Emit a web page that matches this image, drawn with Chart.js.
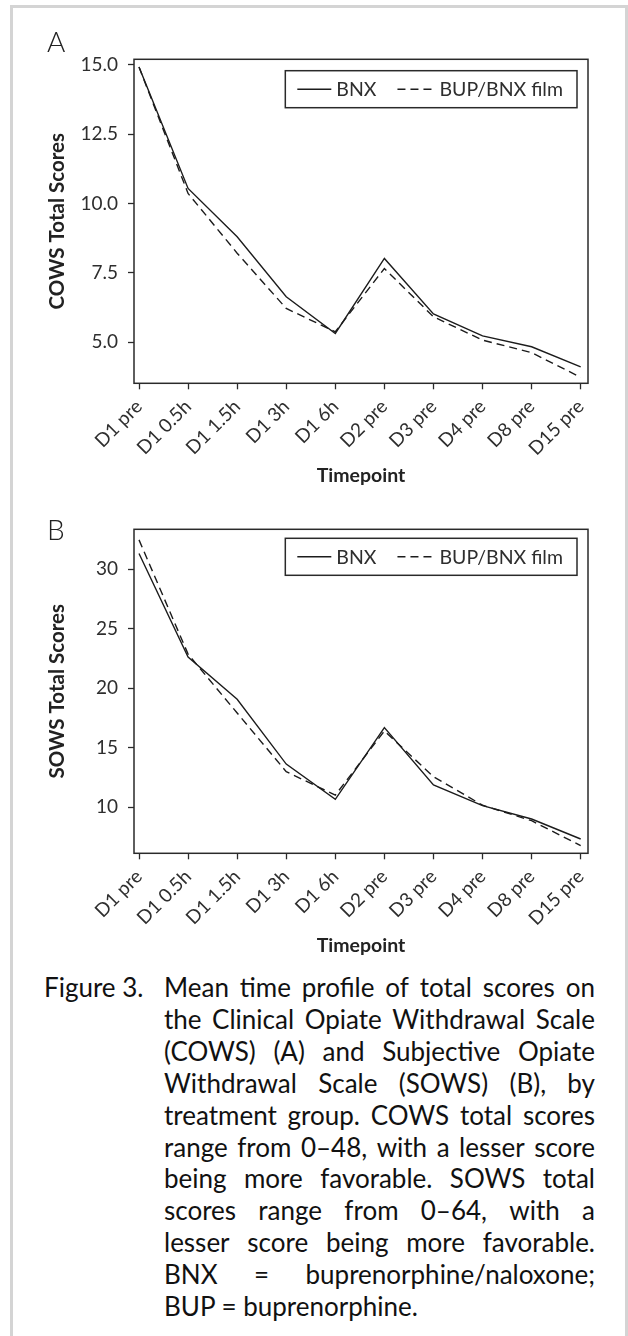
<!DOCTYPE html>
<html>
<head>
<meta charset="utf-8">
<script src="https://cdn.jsdelivr.net/npm/chart.js@4.4.0/dist/chart.umd.min.js"></script>
<style>
  html, body { margin: 0; padding: 0; background: #fff; }
  body { width: 628px; height: 1336px; position: relative; overflow: hidden; font-family: Lato, "Open Sans", sans-serif; }
  #frame { position: absolute; left: 10px; top: 5px; width: 618px; height: 1400px; border: 3px solid #d4d4d4; box-sizing: border-box; }
  canvas { position: absolute; left: 0; }
  #chartA { top: 50px; }
  #chartB { top: 520px; }
  .panel { position: absolute; left: 47px; font-size: 28px; font-weight: 300; line-height: 1; color: #222; }
  #caption { position: absolute; left: 44px; top: 972px; width: 551px; font-size: 21px; line-height: 31.9px; color: #111; }
  #caption .fig { position: absolute; left: 0; top: 0; white-space: nowrap; }
  #caption .body { position: absolute; left: 120px; top: 0; width: 431px; }
  #caption .body div { display: flex; justify-content: space-between; white-space: nowrap; }
  #caption .body div.last { justify-content: flex-start; }
</style>
</head>
<body>
<div id="frame"></div>
<canvas id="chartA" width="628" height="450"></canvas>
<canvas id="chartB" width="628" height="450"></canvas>
<div class="panel" style="top:27px">A</div>
<div class="panel" style="top:515px">B</div>
<div id="caption">
  <div class="fig">Figure 3.</div>
  <div class="body" id="capBody"></div>
</div>
<script>
const timepoints = ['D1 pre', 'D1 0.5h', 'D1 1.5h', 'D1 3h', 'D1 6h', 'D2 pre', 'D3 pre', 'D4 pre', 'D8 pre', 'D15 pre'];
const seriesNames = ['BNX', 'BUP/BNX film'];

// panel A - COWS
const cowsBnx  = [14.91, 10.54, 8.80, 6.64, 5.32, 8.02, 6.02, 5.23, 4.84, 4.12];
const cowsFilm = [14.91, 10.36, 8.21, 6.22, 5.38, 7.66, 5.92, 5.08, 4.63, 3.74];
const cowsTicks = [5.0, 7.5, 10.0, 12.5, 15.0];

// panel B - SOWS
const sowsBnx  = [31.30, 22.60, 19.05, 13.61, 10.65, 16.67, 11.85, 10.11, 8.99, 7.31];
const sowsFilm = [32.45, 22.85, 17.90, 12.97, 11.00, 16.39, 12.55, 10.15, 8.85, 6.75];
const sowsTicks = [10, 15, 20, 25, 30];

const captionLines = [
  'Mean time profile of total scores on',
  'the Clinical Opiate Withdrawal Scale',
  '(COWS) (A) and Subjective Opiate',
  'Withdrawal Scale (SOWS) (B), by',
  'treatment group. COWS total scores',
  'range from 0–48, with a lesser score',
  'being more favorable. SOWS total',
  'scores range from 0–64, with a',
  'lesser score being more favorable.',
  'BNX = buprenorphine/naloxone;',
  'BUP = buprenorphine.'
];

const ink = '#1c1c1c';
const textCol = '#2e2e2e';
const fontFam = 'Lato';

// caption: one justified row per line, font sized so the fullest line just fits
const capBody = document.getElementById('capBody');
captionLines.forEach((line, i) => {
  const row = document.createElement('div');
  if (i === captionLines.length - 1) {
    row.className = 'last';
    row.textContent = line;
  } else {
    line.split(' ').forEach(w => {
      const s = document.createElement('span');
      s.textContent = w;
      row.appendChild(s);
    });
  }
  capBody.appendChild(row);
});
(function fitCaption() {
  const probe = document.createElement('span');
  probe.style.cssText = 'position:absolute;visibility:hidden;white-space:nowrap;font-size:21px;font-family:Lato';
  document.body.appendChild(probe);
  let widest = 0;
  captionLines.slice(0, -1).forEach(l => {
    probe.textContent = l;
    widest = Math.max(widest, probe.getBoundingClientRect().width);
  });
  probe.remove();
  const size = Math.min(26, 21 * 424 / widest);
  document.getElementById('caption').style.fontSize = size.toFixed(2) + 'px';
})();

// box round the plot + legend inside it
const framePlugin = {
  id: 'frame',
  afterDraw(chart, args, opts) {
    const ctx = chart.ctx;
    const a = chart.chartArea;
    ctx.save();
    ctx.strokeStyle = '#2a2a2a';
    ctx.lineWidth = 1.5;
    ctx.strokeRect(a.left, a.top, a.right - a.left, a.bottom - a.top);

    ctx.font = '19.5px ' + fontFam;
    const sets = chart.data.datasets;
    const lineLen = [34, 36];
    const w0 = ctx.measureText(sets[0].label).width;
    const w1 = ctx.measureText(sets[1].label).width;
    const boxW = 12 + lineLen[0] + 5 + w0 + 21 + lineLen[1] + 6 + w1 + 14;
    const boxH = 37;
    const right = a.right - 11;
    const left = right - boxW;
    const top = a.top + opts.top;
    const mid = top + boxH / 2;
    ctx.fillStyle = '#fff';
    ctx.fillRect(left, top, boxW, boxH);
    ctx.strokeRect(left, top, boxW, boxH);

    let x = left + 12;
    ctx.textBaseline = 'middle';
    ctx.fillStyle = textCol;
    for (let i = 0; i < 2; i++) {
      ctx.beginPath();
      ctx.lineWidth = sets[i].borderWidth;
      ctx.strokeStyle = sets[i].borderColor;
      ctx.setLineDash(sets[i].borderDash || []);
      ctx.moveTo(x, mid);
      ctx.lineTo(x + lineLen[i], mid);
      ctx.stroke();
      ctx.setLineDash([]);
      x += lineLen[i] + (i === 0 ? 5 : 6);
      ctx.fillText(sets[i].label, x, mid + 1);
      x += (i === 0 ? w0 : w1) + 21;
    }
    ctx.restore();
  }
};

function makeChart(id, bnx, film, yTicks, yMin, yMax, yTitle, decimals, legendTop) {
  return new Chart(document.getElementById(id), {
    type: 'line',
    data: {
      datasets: [
        {
          label: seriesNames[0],
          data: bnx.map((v, i) => ({x: i, y: v})),
          borderColor: ink,
          borderWidth: 1.4,
          pointRadius: 0,
          tension: 0
        },
        {
          label: seriesNames[1],
          data: film.map((v, i) => ({x: i, y: v})),
          borderColor: ink,
          borderWidth: 1.4,
          borderDash: [8, 5],
          pointRadius: 0,
          tension: 0
        }
      ]
    },
    plugins: [framePlugin],
    options: {
      responsive: false,
      animation: false,
      devicePixelRatio: 1,
      layout: { padding: { left: 20, right: 40, top: 9.3, bottom: 0 } },
      plugins: {
        legend: { display: false },
        tooltip: { enabled: false },
        frame: { top: legendTop }
      },
      scales: {
        x: {
          type: 'linear',
          min: -0.102,
          max: 9.149,
          afterBuildTicks: s => { s.ticks = timepoints.map((t, i) => ({value: i})); },
          afterFit: s => { s.height = 116.7; s.paddingLeft = 0; s.paddingRight = 0; },
          ticks: {
            callback: v => timepoints[v],
            autoSkip: false,
            minRotation: 45,
            maxRotation: 45,
            padding: 6,
            color: textCol,
            font: { family: fontFam, size: 19 }
          },
          grid: { drawOnChartArea: false, drawTicks: true, tickLength: 6, tickColor: '#2a2a2a', tickWidth: 1.3 },
          border: { display: false },
          title: {
            display: true,
            text: 'Timepoint',
            color: '#222',
            font: { family: fontFam, size: 19.5, weight: 'bold' },
            padding: { top: 0, bottom: 13 }
          }
        },
        y: {
          type: 'linear',
          min: yMin,
          max: yMax,
          afterBuildTicks: s => { s.ticks = yTicks.map(v => ({value: v})); },
          afterFit: s => { s.width = 114; s.paddingTop = 0; s.paddingBottom = 0; },
          ticks: {
            callback: v => v.toFixed(decimals),
            padding: 10,
            color: textCol,
            font: { family: fontFam, size: 19 }
          },
          grid: { drawOnChartArea: false, drawTicks: true, tickLength: 6, tickColor: '#2a2a2a', tickWidth: 1.3 },
          border: { display: false },
          title: {
            display: true,
            text: yTitle,
            color: '#222',
            font: { family: fontFam, size: 20.5, weight: 'bold' },
            padding: { top: 25, bottom: 0 }
          }
        }
      }
    }
  });
}

makeChart('chartA', cowsBnx, cowsFilm, cowsTicks, 3.525, 15.19, 'COWS Total Scores', 1, 11.4);
makeChart('chartB', sowsBnx, sowsFilm, sowsTicks, 6.11, 33.34, 'SOWS Total Scores', 0, 9);
</script>
</body>
</html>
